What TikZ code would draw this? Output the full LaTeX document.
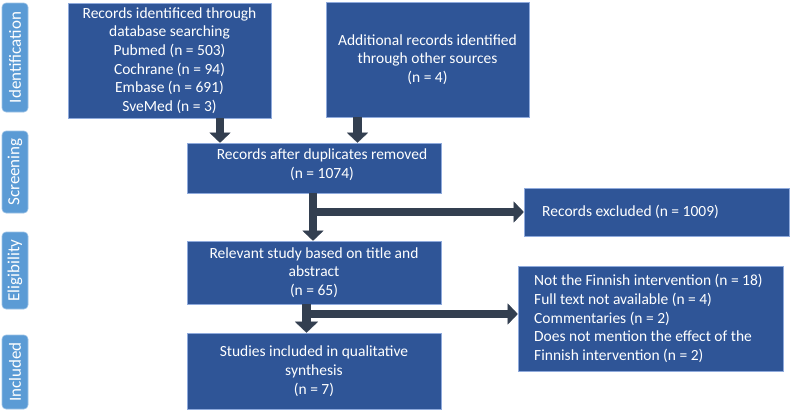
\documentclass[tikz,border=0pt]{standalone}
\usepackage{fontspec}
\setmainfont{Carlito}
\usetikzlibrary{arrows.meta}
\definecolor{boxblue}{HTML}{2F5597}
\definecolor{boxedge}{HTML}{8FAADC}
\definecolor{sideblue}{HTML}{5B9BD5}
\definecolor{sideedge}{HTML}{9DC3E6}
\definecolor{arrowdark}{HTML}{333F50}
\tikzset{
  box/.style={rectangle, fill=boxblue, draw=boxedge, line width=0.6pt, inner sep=0pt,
    text=white, align=center, font=\fontsize{15.5}{18.7}\selectfont},
  txt/.style={text=white, inner sep=0pt, font=\fontsize{15.5}{18.7}\selectfont},
  side/.style={rectangle, rounded corners=4pt, fill=sideblue, draw=sideedge, line width=0.6pt,
    inner sep=0pt, minimum width=26pt},
  sidetxt/.style={text=white, rotate=90, inner sep=0pt, font=\fontsize{17}{20}\selectfont},
  blk/.style={draw=arrowdark, line width=8.5pt,
    -{Triangle[width=21pt,length=10pt,line width=0.1pt]}},
}
\begin{document}
\begin{tikzpicture}[x=1pt,y=-1pt]
\useasboundingbox (0,0) rectangle (790,410);
% side labels
\node[side, minimum height=109pt] (sid) at (15,57.5) {};
\node[sidetxt] at (sid.center) {Identification};
\node[side, minimum height=82pt] (ssc) at (15,172) {};
\node[sidetxt] at (ssc.center) {Screening};
\node[side, minimum height=77pt] (sel) at (15,270.5) {};
\node[sidetxt] at (sel.center) {Eligibility};
\node[side, minimum height=74pt] (sin) at (15,372) {};
\node[sidetxt] at (sin.center) {Included};
% boxes
\node[box, minimum width=203pt, minimum height=115pt] (b1) at (169.5,60.5)
  {Records identificed through\\database searching\\Pubmed (n = 503)\\Cochrane (n = 94)\\Embase (n = 691)\\SveMed (n = 3)};
\node[box, minimum width=203pt, minimum height=115pt] (b2) at (427.5,59.5)
  {Additional records identified\\through other sources\\(n = 4)};
\node[box, minimum width=254pt, minimum height=50pt] (b3) at (314,168) {};
\node[txt, align=center] at (322,164.5) {Records after duplicates removed\\(n = 1074)};
\node[box, minimum width=265pt, minimum height=48pt] (exc) at (656.5,212) {};
\node[txt, anchor=west] at (542,212) {Records excluded (n = 1009)};
\node[box, minimum width=254pt, minimum height=63pt] (rel) at (314,272.5)
  {Relevant study based on title and\\abstract\\(n = 65)};
\node[box, minimum width=254pt, minimum height=76pt] (inc) at (314,371)
  {Studies included in qualitative\\synthesis\\(n = 7)};
\node[box, minimum width=265pt, minimum height=105pt] (exc2) at (650.5,318.5) {};
\node[txt, anchor=west, align=left] at (534,318.5)
  {Not the Finnish intervention (n = 18)\\Full text not available (n = 4)\\Commentaries (n = 2)\\Does not mention the effect of the\\Finnish intervention (n = 2)};
% connector guide coordinates
\coordinate (x1) at (220,0);
\coordinate (x2) at (357.5,0);
\coordinate (x3) at (313,0);
\coordinate (x4) at (306.5,0);
\coordinate (y4) at (0,314);
% arrows
\draw[blk] (b1.south -| x1) -- (b3.north -| x1);
\draw[blk] (b2.south -| x2) -- (b3.north -| x2);
\draw[blk] (x3 |- exc.west) -- (exc.west);
\draw[blk] (b3.south -| x3) -- (rel.north -| x3);
\draw[blk] (x4 |- y4) -- (exc2.west |- y4);
\draw[blk, -{Triangle[width=23pt,length=11pt,line width=0.1pt]}] (rel.south -| x4) -- (inc.north -| x4);
\end{tikzpicture}
\end{document}
